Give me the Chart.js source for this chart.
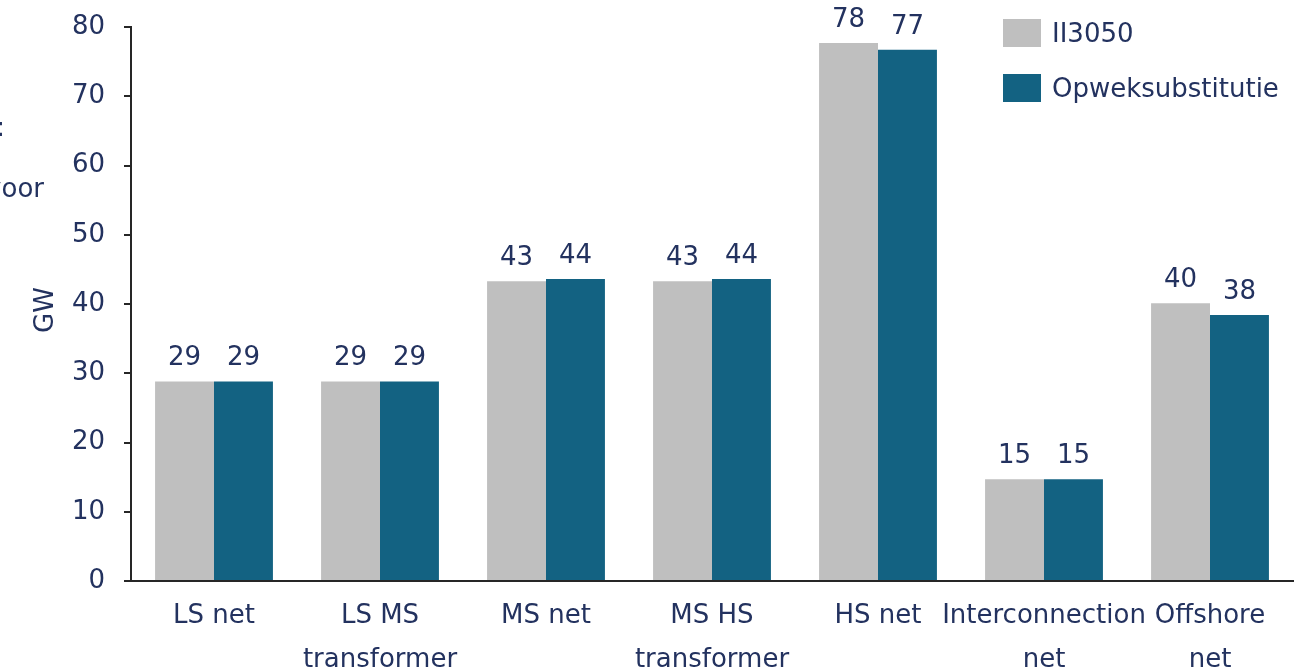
<!DOCTYPE html>
<html>
<head>
<meta charset="utf-8">
<script src="https://cdn.jsdelivr.net/npm/chart.js@4.4.1/dist/chart.umd.min.js"></script>
<style>
  html, body { margin: 0; padding: 0; background: #fff; }
  #wrap { position: relative; width: 1311px; height: 671px; overflow: hidden; font-family: "DejaVu Sans", Verdana, sans-serif; color: #23325f; }
  canvas { position: absolute; left: 0; top: 0; }
  .side { position: absolute; white-space: nowrap; font-size: 26px; line-height: 1; }
  .legend { position: absolute; left: 1003px; font-size: 26px; display: flex; align-items: center; white-space: nowrap; }
  .legend .box { width: 38px; height: 28px; margin-right: 11px; }
</style>
</head>
<body>
<div id="wrap">
  <canvas id="c" width="1311" height="671"></canvas>
  <div class="side" style="right:1306px; top:114px;">Capaciteit:</div>
  <div class="side" style="right:1267px; top:175px;">Benodigd voor</div>
  <div class="side" style="left:21px; top:310px; transform: translate(0,-50%) rotate(-90deg); transform-origin: center;">GW</div>
  <div class="legend" style="top:18px;"><span class="box" style="background:#bfbfbf"></span>II3050</div>
  <div class="legend" style="top:73px;"><span class="box" style="background:#136282"></span>Opweksubstitutie</div>
</div>
<script>
const categories = [["LS net"], ["LS MS", "transformer"], ["MS net"], ["MS HS", "transformer"], ["HS net"], ["Interconnection", "net"], ["Offshore", "net"]];
const seriesNames = ["II3050", "Opweksubstitutie"];
const ii3050 = [28.8, 28.8, 43.3, 43.3, 77.7, 14.7, 40.1];
const opwek = [28.8, 28.8, 43.6, 43.6, 76.7, 14.7, 38.4];
const yTicks = [0, 10, 20, 30, 40, 50, 60, 70, 80];

const TEXT = "#23325f";
const FONT = "DejaVu Sans";

const valueLabels = {
  id: "valueLabels",
  afterDatasetsDraw(chart) {
    const ctx = chart.ctx;
    ctx.save();
    ctx.fillStyle = TEXT;
    ctx.font = "26px '" + FONT + "'";
    ctx.textAlign = "center";
    ctx.textBaseline = "bottom";
    chart.data.datasets.forEach((ds, i) => {
      chart.getDatasetMeta(i).data.forEach((bar, j) => {
        ctx.fillText(String(Math.round(ds.data[j])), bar.x, bar.y - 10);
      });
    });
    ctx.restore();
  }
};

new Chart(document.getElementById("c"), {
  type: "bar",
  data: {
    labels: categories,
    datasets: [
      { label: seriesNames[0], data: ii3050, backgroundColor: "#bfbfbf" },
      { label: seriesNames[1], data: opwek, backgroundColor: "#136282" }
    ]
  },
  options: {
    responsive: false,
    animation: false,
    devicePixelRatio: 1,
    layout: { padding: { top: 27, right: 18, left: 0, bottom: 0 } },
    datasets: { bar: { categoryPercentage: 0.71, barPercentage: 1.0 } },
    plugins: { legend: { display: false }, tooltip: { enabled: false } },
    scales: {
      x: {
        grid: { display: false, drawTicks: false },
        border: { color: "#262626", width: 2 },
        ticks: { color: TEXT, font: { family: FONT, size: 26, lineHeight: 1.7 }, padding: 13, maxRotation: 0, autoSkip: false },
        afterFit(scale) { scale.height = 90; scale.paddingLeft = 0; scale.paddingRight = 0; }
      },
      y: {
        min: 0, max: 80,
        afterBuildTicks(scale) { scale.ticks = yTicks.map(v => ({ value: v })); },
        grid: { drawOnChartArea: false, drawTicks: true, tickLength: 7, color: "#262626", lineWidth: 2 },
        border: { color: "#262626", width: 2 },
        ticks: { color: TEXT, font: { family: FONT, size: 26 }, padding: 19 },
        afterFit(scale) { scale.width = 131; scale.paddingTop = 0; scale.paddingBottom = 0; }
      }
    }
  },
  plugins: [valueLabels]
});
</script>
</body>
</html>
